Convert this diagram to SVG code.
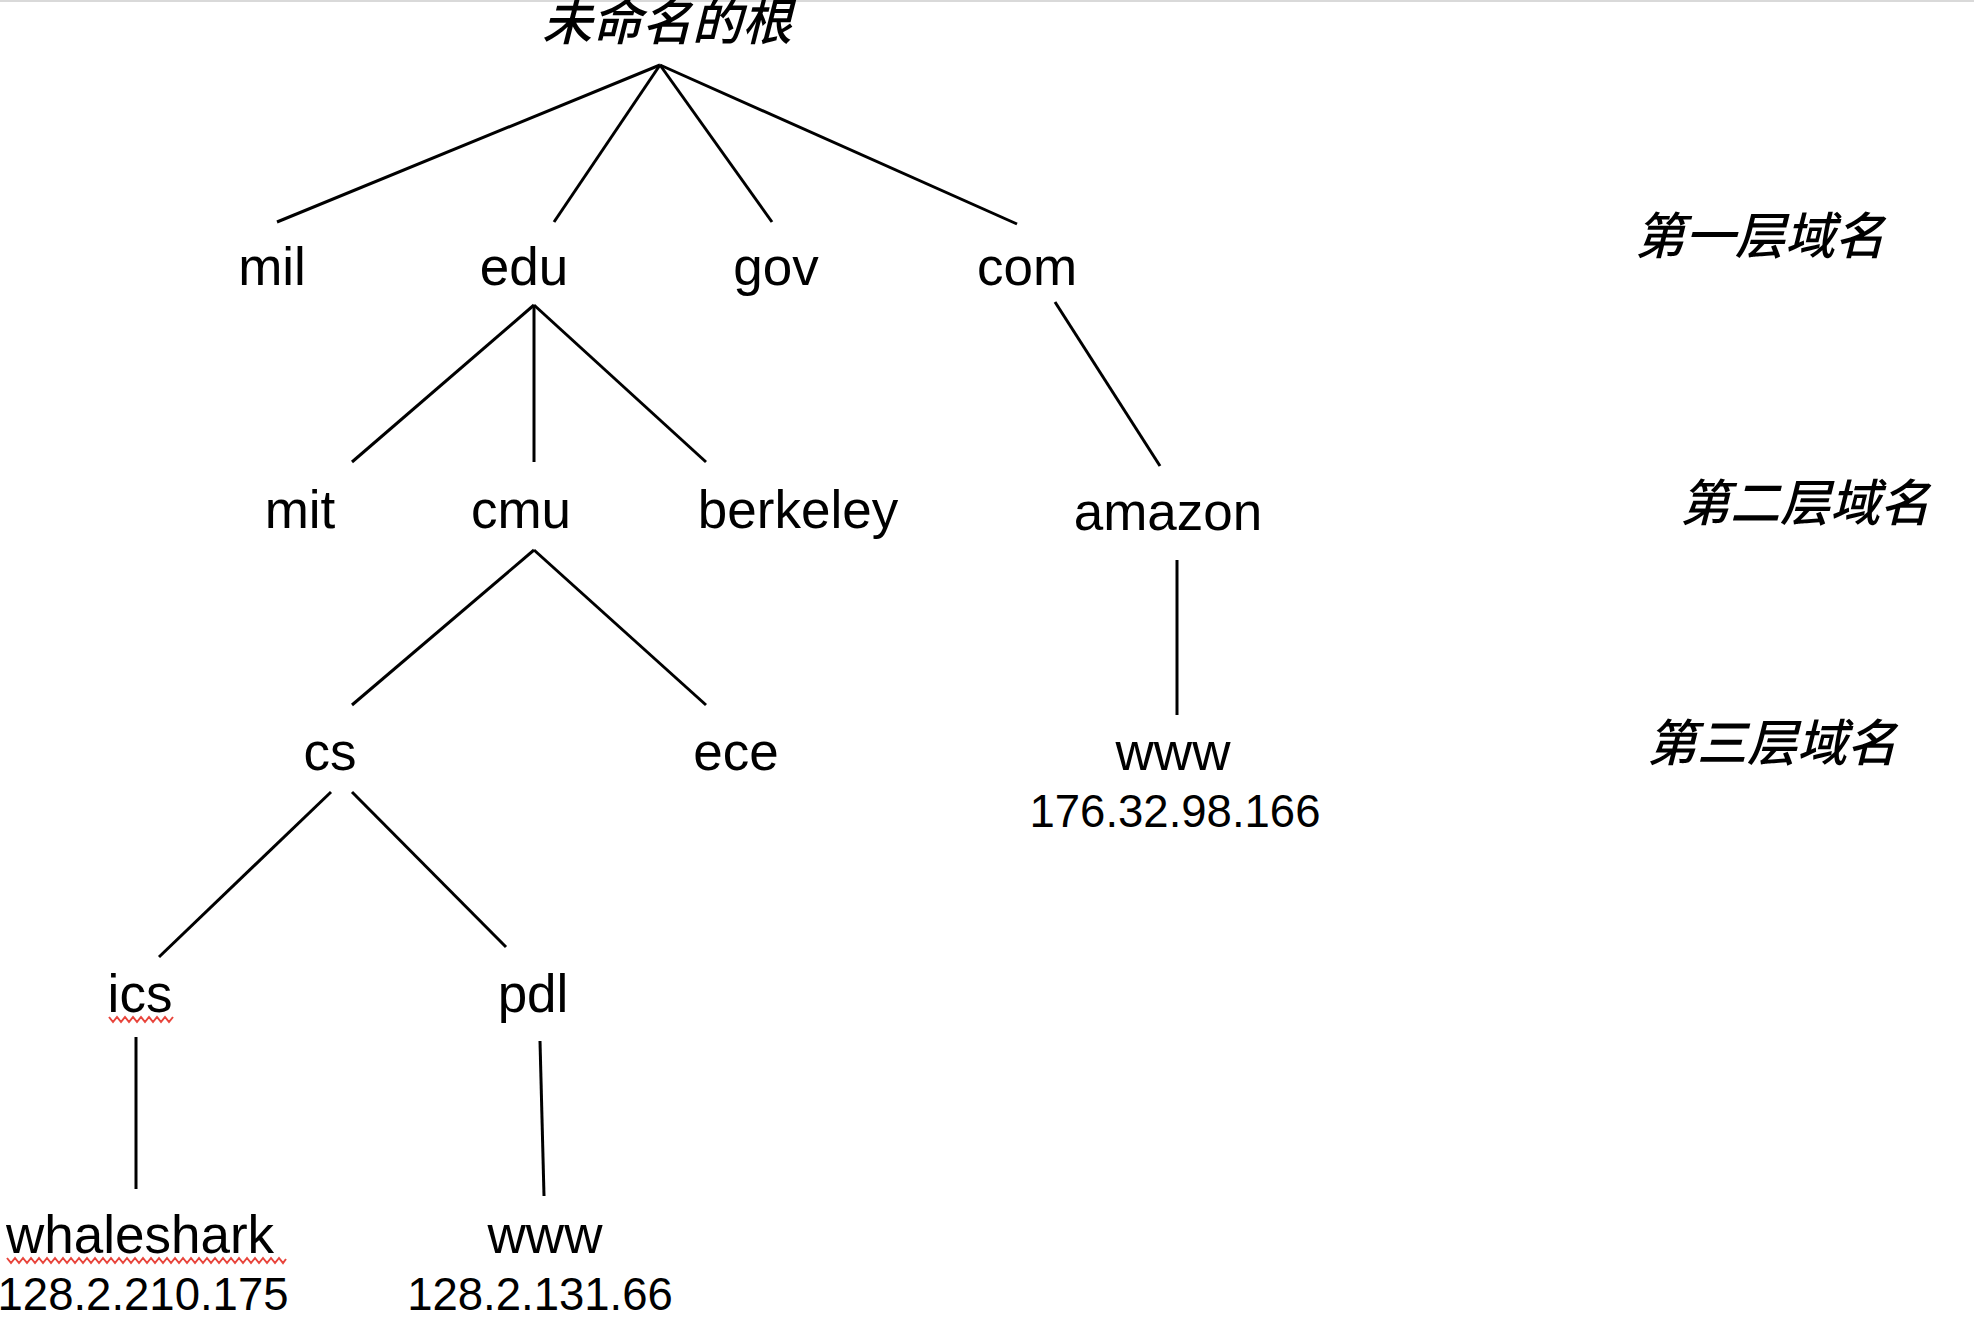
<svg xmlns="http://www.w3.org/2000/svg" width="1974" height="1330" viewBox="0 0 1974 1330">
<style>
.lbl{font-family:"Liberation Sans",Arial,"Noto Sans CJK SC",sans-serif;font-size:53px;fill:#000;text-anchor:middle}
.ip{font-family:"Liberation Sans",Arial,sans-serif;font-size:45.5px;fill:#000;text-anchor:middle}
.cjk{font-family:"Noto Sans CJK SC","Noto Sans",sans-serif;font-size:50px;font-style:italic;font-weight:500;fill:#000;text-anchor:middle}
.edge{stroke:#000;stroke-width:3;fill:none}
.spell{stroke:#e8453c;stroke-width:2;fill:none}
</style>
<rect x="0" y="0" width="1974" height="1330" fill="#fff"/>
<rect x="0" y="0" width="1974" height="2" fill="#d9d9d9"/>
<g id="connectors">
<line class="edge" x1="660" y1="65" x2="277" y2="222"/>
<line class="edge" x1="660" y1="65" x2="554" y2="222"/>
<line class="edge" x1="660" y1="65" x2="772" y2="222"/>
<line class="edge" x1="660" y1="65" x2="1017" y2="224"/>
<line class="edge" x1="534" y1="305" x2="352" y2="462"/>
<line class="edge" x1="534" y1="305" x2="534" y2="462"/>
<line class="edge" x1="534" y1="305" x2="706" y2="462"/>
<line class="edge" x1="1055" y1="302" x2="1160" y2="466"/>
<line class="edge" x1="534" y1="550" x2="352" y2="705"/>
<line class="edge" x1="534" y1="550" x2="706" y2="705"/>
<line class="edge" x1="1177" y1="560" x2="1177" y2="715"/>
<line class="edge" x1="331" y1="792" x2="159" y2="957"/>
<line class="edge" x1="352" y1="792" x2="506" y2="947"/>
<line class="edge" x1="136" y1="1037" x2="136" y2="1189"/>
<line class="edge" x1="540" y1="1041" x2="544" y2="1196"/>
</g>
<g id="root"><text class="cjk" x="667" y="40" font-size="52">未命名的根</text></g>
<g id="mil"><text class="lbl" x="272" y="285">mil</text></g>
<g id="edu"><text class="lbl" x="524" y="285">edu</text></g>
<g id="gov"><text class="lbl" x="776" y="285">gov</text></g>
<g id="com"><text class="lbl" x="1027" y="285">com</text></g>
<g id="mit"><text class="lbl" x="300" y="528">mit</text></g>
<g id="cmu"><text class="lbl" x="521" y="528">cmu</text></g>
<g id="berkeley"><text class="lbl" x="798" y="528">berkeley</text></g>
<g id="amazon"><text class="lbl" x="1168" y="530">amazon</text></g>
<g id="cs"><text class="lbl" x="330" y="770">cs</text></g>
<g id="ece"><text class="lbl" x="736" y="770">ece</text></g>
<g id="www-amazon"><text class="lbl" x="1173" y="770">www</text><text class="ip" x="1175" y="827">176.32.98.166</text></g>
<g id="ics"><text class="lbl" x="140" y="1012">ics</text>
<polyline class="spell" points="109,1017 113,1022 117,1017 121,1022 125,1017 129,1022 133,1017 137,1022 141,1017 145,1022 149,1017 153,1022 157,1017 161,1022 165,1017 169,1022 173,1017"/></g>
<g id="pdl"><text class="lbl" x="533" y="1012">pdl</text></g>
<g id="whaleshark"><text class="lbl" x="140" y="1253">whaleshark</text>
<polyline class="spell" points="7,1258 11,1263 15,1258 19,1263 23,1258 27,1263 31,1258 35,1263 39,1258 43,1263 47,1258 51,1263 55,1258 59,1263 63,1258 67,1263 71,1258 75,1263 79,1258 83,1263 87,1258 91,1263 95,1258 99,1263 103,1258 107,1263 111,1258 115,1263 119,1258 123,1263 127,1258 131,1263 135,1258 139,1263 143,1258 147,1263 151,1258 155,1263 159,1258 163,1263 167,1258 171,1263 175,1258 179,1263 183,1258 187,1263 191,1258 195,1263 199,1258 203,1263 207,1258 211,1263 215,1258 219,1263 223,1258 227,1263 231,1258 235,1263 239,1258 243,1263 247,1258 251,1263 255,1258 259,1263 263,1258 267,1263 271,1258 275,1263 279,1258 283,1263 286,1259"/>
<text class="ip" x="143" y="1310">128.2.210.175</text></g>
<g id="www-pdl"><text class="lbl" x="545" y="1253">www</text><text class="ip" x="540" y="1310">128.2.131.66</text></g>
<g id="level1"><text class="cjk" x="1760" y="254">第一层域名</text></g>
<g id="level2"><text class="cjk" x="1805" y="521">第二层域名</text></g>
<g id="level3"><text class="cjk" x="1772" y="761">第三层域名</text></g>
</svg>
